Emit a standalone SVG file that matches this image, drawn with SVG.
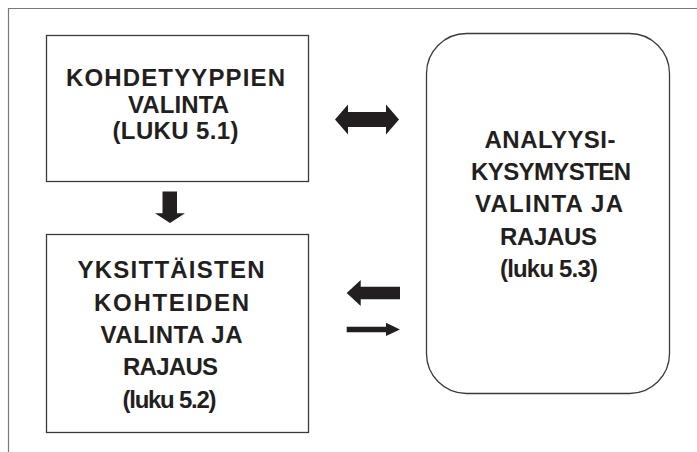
<svg xmlns="http://www.w3.org/2000/svg" width="697" height="452" viewBox="0 0 697 452">
<style>
  .frame { fill: none; stroke: #7a7a7a; stroke-width: 1.2; }
  .box { fill: #ffffff; stroke: #3a3a3a; stroke-width: 1.3; }
  .lbl { font-family: "Liberation Sans", Arial, sans-serif; font-weight: 700; font-size: 24px; fill: #231f20; text-anchor: middle; }
  .arrow { fill: #231f20; stroke: none; }
</style>
<rect width="697" height="452" fill="#ffffff"/>
<path class="frame" d="M8.5,452 V8.5 H697"/>
<g id="node-kohdetyyppien">
  <rect class="box" x="46.5" y="35.5" width="262" height="146"/>
  <text class="lbl" x="175.5" y="86" textLength="219" lengthAdjust="spacing">KOHDETYYPPIEN</text>
  <text class="lbl" x="178.5" y="112.7" textLength="101" lengthAdjust="spacing">VALINTA</text>
  <text class="lbl" x="175.5" y="139.3" textLength="126" lengthAdjust="spacing">(LUKU 5.1)</text>
</g>
<g id="node-yksittaisten">
  <rect class="box" x="46.5" y="234.5" width="262" height="198"/>
  <text class="lbl" x="171" y="278.3" textLength="187" lengthAdjust="spacing">YKSITTÄISTEN</text>
  <text class="lbl" x="171.5" y="310.7" textLength="155" lengthAdjust="spacing">KOHTEIDEN</text>
  <text class="lbl" x="171.5" y="343" textLength="142" lengthAdjust="spacing">VALINTA JA</text>
  <text class="lbl" x="170.5" y="375.3" textLength="95" lengthAdjust="spacing">RAJAUS</text>
  <text class="lbl" x="169.5" y="407.6" textLength="94" lengthAdjust="spacing">(luku 5.2)</text>
</g>
<g id="node-analyysi">
  <rect class="box" x="426.5" y="33.5" width="243" height="360" rx="40" ry="40"/>
  <text class="lbl" x="550" y="147.7" textLength="131" lengthAdjust="spacing">ANALYYSI-</text>
  <text class="lbl" x="551" y="180" textLength="160" lengthAdjust="spacing">KYSYMYSTEN</text>
  <text class="lbl" x="549" y="212.3" textLength="148" lengthAdjust="spacing">VALINTA JA</text>
  <text class="lbl" x="548.5" y="244.6" textLength="97" lengthAdjust="spacing">RAJAUS</text>
  <text class="lbl" x="549" y="276.5" textLength="98" lengthAdjust="spacing">(luku 5.3)</text>
</g>
<g id="connectors">
  <path class="arrow" d="M162.5,191.5 H177 V213.3 H185 L170,223 L155,213.3 H162.5 Z"/>
  <path class="arrow" d="M335,119.5 L348,104.5 V112 H386 V104.5 L399,119.5 L386,134.5 V127 H348 V134.5 Z"/>
  <path class="arrow" d="M346.7,293 L360.7,280 V286.7 H400 V299.3 H360.7 V306 Z"/>
  <path class="arrow" d="M346.7,326.7 H386 V322.7 L400,329.4 L386,336 V332.2 H346.7 Z"/>
</g>
</svg>
